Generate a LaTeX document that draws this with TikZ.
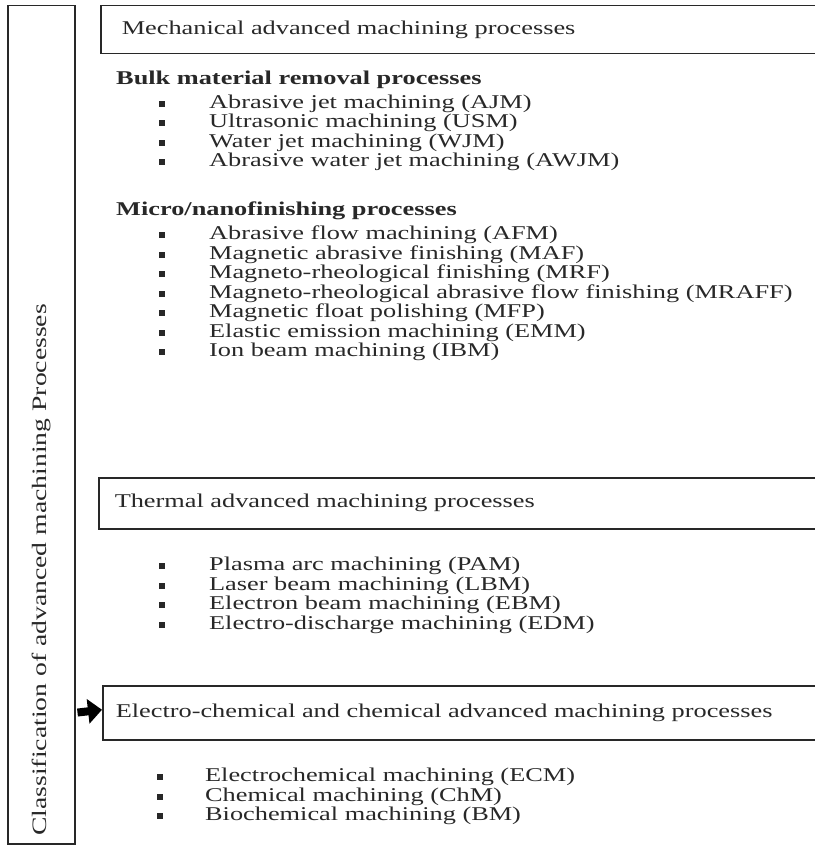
\documentclass[tikz,border=0pt]{standalone}
\usepackage{fontspec}
\setmainfont{Liberation Serif}[FakeStretch=1.35]
\usetikzlibrary{positioning,arrows.meta}
\definecolor{inkgray}{RGB}{40,40,40}
\newcommand\listfont{\fontsize{19.5}{19.5}\selectfont}

\tikzset{
  framebox/.style={draw=inkgray,line width=1.5pt},
  headbox/.style={framebox,anchor=north west,align=left,text=inkgray,
    font=\listfont,minimum height=#1},
  sqbullet/.style={fill=inkgray,inner sep=0pt,minimum width=5.5pt,minimum height=6pt},
  itemtext/.style={anchor=west,inner sep=0pt,text height=13pt,text depth=4pt,
    text=inkgray,font=\listfont},
  grouphead/.style={itemtext,font=\listfont\bfseries}
}

\begin{document}
\begin{tikzpicture}[x=1pt,y=-1pt]
  \useasboundingbox (0,0) rectangle (814,845);

  % side box with the title
  \node[framebox,minimum width=67pt,minimum height=838pt,anchor=north west]
    (cls) at (7,5) {};
  \node[rotate=90,anchor=west,inner sep=0pt,text=inkgray,font=\fontsize{20.5}{20.5}\selectfont]
    (clstext) at (41,836) {Classification of advanced machining Processes};

  % mechanical
  \node[headbox=48pt,inner xsep=21pt,text width=674pt] (mech) at (100,5)
    {Mechanical advanced machining processes};
  \node[grouphead] (bulk) at (116,80) {Bulk material removal processes};
  \foreach \txt [count=\i] in {Abrasive jet machining (AJM),
      Ultrasonic machining (USM),Water jet machining (WJM),
      Abrasive water jet machining (AWJM)}{
    \node[sqbullet] (bk\i) at (162,{104+(\i-1)*19.5}) {};
    \node[itemtext,right=44pt of bk\i] (bkt\i) {\txt};
  }
  \node[grouphead] (micro) at (116,211) {Micro/nanofinishing processes};
  \foreach \txt [count=\i] in {Abrasive flow machining (AFM),
      Magnetic abrasive finishing (MAF),Magneto-rheological finishing (MRF),
      Magneto-rheological abrasive flow finishing (MRAFF),
      Magnetic float polishing (MFP),Elastic emission machining (EMM),
      Ion beam machining (IBM)}{
    \node[sqbullet] (mn\i) at (162,{235+(\i-1)*19.5}) {};
    \node[itemtext,right=44pt of mn\i] (mnt\i) {\txt};
  }

  % thermal
  \node[headbox=51pt,inner xsep=16pt,text width=686pt] (therm) at (98,477)
    {Thermal advanced machining processes};
  \foreach \txt [count=\i] in {Plasma arc machining (PAM),
      Laser beam machining (LBM),Electron beam machining (EBM),
      Electro-discharge machining (EDM)}{
    \node[sqbullet] (th\i) at (162,{566+(\i-1)*19.5}) {};
    \node[itemtext,right=44pt of th\i] (tht\i) {\txt};
  }

  % electro-chemical
  \node[headbox=54pt,inner xsep=13pt,text width=688pt] (ec) at (102,685)
    {Electro-chemical and chemical advanced machining processes};
  \draw[line width=8pt,-{Triangle[length=14pt,width=24pt]},shorten <=2pt]
    (cls.east |- ec.west) -- ([yshift=3pt]ec.west);
  \foreach \txt [count=\i] in {Electrochemical machining (ECM),
      Chemical machining (ChM),Biochemical machining (BM)}{
    \node[sqbullet] (ecb\i) at (160,{777+(\i-1)*19.5}) {};
    \node[itemtext,right=42pt of ecb\i] (ect\i) {\txt};
  }
\end{tikzpicture}
\end{document}
